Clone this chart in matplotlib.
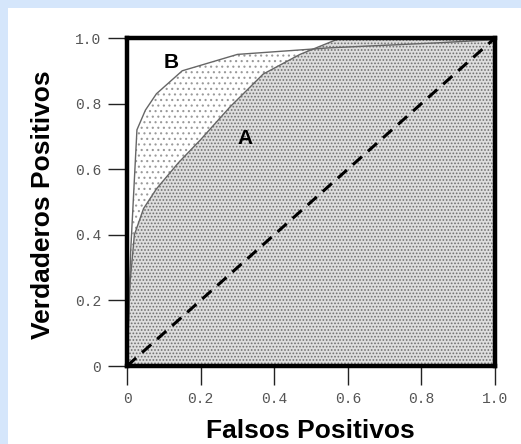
import matplotlib.pyplot as plt
from matplotlib.patches import Rectangle

# ROC curves
fpr_a = [0.0, 0.008, 0.02, 0.045, 0.08, 0.14, 0.20, 0.28, 0.37, 0.47, 0.58, 1.0]
tpr_a = [0.0, 0.25, 0.40, 0.48, 0.54, 0.62, 0.69, 0.79, 0.89, 0.95, 1.0, 1.0]
fpr_b = [0.0, 0.01, 0.027, 0.05, 0.08, 0.15, 0.30, 0.55, 0.84, 1.0]
tpr_b = [0.0, 0.35, 0.72, 0.78, 0.83, 0.90, 0.95, 0.97, 0.985, 0.995]
diag = [0.0, 1.0]
xticks = [0, 0.2, 0.4, 0.6, 0.8, 1.0]
xticklabels = ['0', '0.2', '0.4', '0.6', '0.8', '1.0']
yticks = [0, 0.2, 0.4, 0.6, 0.8, 1.0]
yticklabels = ['0', '0.2', '0.4', '0.6', '0.8', '1.0']

plt.rcParams['hatch.linewidth'] = 0.8

fig = plt.figure(figsize=(5.21, 4.44), dpi=100)
fig.patch.set_facecolor('white')
blue = '#d5e6fb'
fig.add_artist(Rectangle((0, 1 - 8 / 444), 1, 8 / 444, transform=fig.transFigure,
                         facecolor=blue, edgecolor='none'))
fig.add_artist(Rectangle((0, 0), 8 / 521, 1, transform=fig.transFigure,
                         facecolor=blue, edgecolor='none'))

ax = fig.add_axes([127 / 521, 78 / 444, 368 / 521, 328 / 444])

# sparse stipple under B, dense stipple under A on top
ax.fill_between(fpr_b, tpr_b, 0, facecolor='white', edgecolor='#9a9a9a',
                hatch='...', linewidth=0, zorder=1)
ax.fill_between(fpr_a, tpr_a, 0, facecolor='#dedede', edgecolor='#707070',
                hatch='.....', linewidth=0, zorder=2)
ax.plot(fpr_b, tpr_b, color='#666666', lw=1.0, zorder=3)
ax.plot(fpr_a, tpr_a, color='#666666', lw=1.0, zorder=3)
ax.plot(diag, diag, color='black', lw=2.2, linestyle=(0, (4, 2.6)), zorder=4)

ax.text(0.12, 0.925, 'B', fontsize=15, fontweight='bold', family='Liberation Sans',
        ha='center', va='center', zorder=5)
ax.text(0.32, 0.695, 'A', fontsize=15, fontweight='bold', family='Liberation Sans',
        ha='center', va='center', zorder=5)

ax.set_xlim(0, 1)
ax.set_ylim(0, 1)
ax.set_xticks(xticks)
ax.set_xticklabels(xticklabels, family='Liberation Mono', fontsize=10.5, color='#555555')
ax.set_yticks(yticks)
ax.set_yticklabels(yticklabels, family='Liberation Mono', fontsize=10.5, color='#555555')
ax.tick_params(length=13.5, width=1.0, color='#222222', pad=5)
for s in ax.spines.values():
    s.set_linewidth(3.2)
    s.set_color('black')
    s.set_zorder(6)

fig.text(43 / 521, 1 - 205 / 444, 'Verdaderos Positivos', rotation=90, fontsize=19,
         fontweight='bold', family='Liberation Sans', ha='center', va='center')
fig.text(310 / 521, 1 - 431 / 444, 'Falsos Positivos', fontsize=19,
         fontweight='bold', family='Liberation Sans', ha='center', va='center')

fig.savefig('out.png', dpi=100)
